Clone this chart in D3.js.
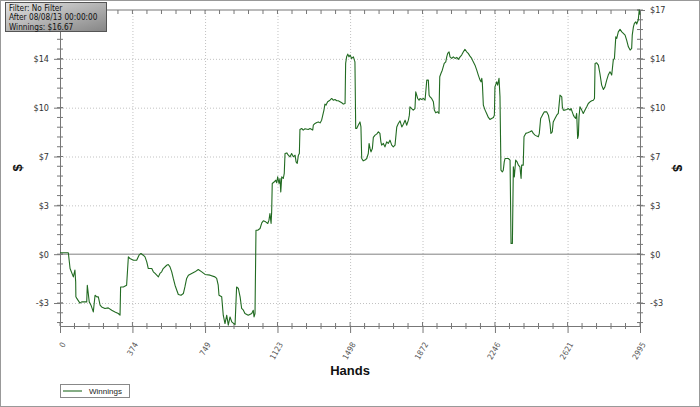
<html>
<head>
  <script src="https://d3js.org/d3.v7.min.js"></script>
  <style>
    body { margin: 0; background: white; }
    svg text { font-family: "DejaVu Sans Condensed", "Liberation Sans", sans-serif; }
    .gridlines line { stroke: #c2c2c2; stroke-dasharray: 1,2; }
    .gridlines .domain { stroke: none; }
    .axis path, .axis line, .ticks line { stroke: #777; }
  </style>
</head>
<body>
<svg id="chart" width="700" height="407"></svg>
<script>
  // running winnings (hand number, dollars)
  const hands = [
    0, 43, 52, 69, 77, 81, 82, 86, 103, 112,
    138, 141, 146, 151, 160, 172, 181, 190, 198, 207,
    215, 232, 249, 267, 284, 301, 310, 313, 327, 344,
    353, 361, 379, 396, 408, 418, 430, 439, 448, 456,
    474, 482, 491, 508, 516, 525, 533, 551, 559, 568,
    577, 585, 594, 603, 611, 625, 637, 645, 654, 663,
    680, 697, 714, 732, 749, 775, 800, 809, 817, 821,
    835, 843, 852, 861, 869, 878, 887, 904, 912, 921,
    930, 938, 947, 955, 972, 990, 998, 1002, 1007,
    1012, 1021, 1033, 1042, 1050, 1062, 1073, 1079, 1084, 1090,
    1093, 1096, 1107, 1114, 1119, 1124, 1131, 1136, 1140, 1145,
    1153, 1158, 1162, 1171, 1179, 1188, 1196, 1205, 1214, 1219,
    1225, 1231, 1236, 1239, 1248, 1256, 1265, 1282, 1291, 1300,
    1305, 1308, 1317, 1326, 1334, 1343, 1351, 1357, 1363, 1368,
    1374, 1382, 1394, 1403, 1411, 1420, 1429, 1437, 1446, 1455,
    1463, 1472, 1475, 1480, 1486, 1492, 1498, 1506, 1515, 1520,
    1523, 1527, 1532, 1540, 1549, 1554, 1558, 1566, 1575, 1584,
    1592, 1596, 1601, 1606, 1613, 1618, 1627, 1635, 1644,
    1652, 1657, 1661, 1670, 1678, 1687, 1695, 1704, 1713, 1721,
    1730, 1739, 1747, 1756, 1765, 1773, 1782, 1790, 1799, 1804,
    1807, 1816, 1824, 1833, 1837, 1842, 1847, 1854, 1859, 1868,
    1876, 1885, 1894, 1902, 1906, 1911, 1919, 1928, 1933, 1940,
    1950, 1957, 1961, 1967, 1974, 1984, 1992, 1997, 2002, 2009,
    2014, 2023, 2031, 2040, 2049, 2057, 2066, 2074, 2083, 2091,
    2100, 2108, 2117, 2126, 2134, 2143, 2152, 2160, 2169, 2174,
    2178, 2181, 2186, 2195, 2203, 2212, 2220, 2229, 2238, 2243,
    2246, 2255, 2260, 2267, 2272, 2277, 2284, 2289, 2294,
    2298, 2315, 2324, 2329, 2336, 2341, 2346, 2353, 2360, 2367,
    2375, 2381, 2384, 2392, 2396, 2405, 2415, 2427, 2436, 2444,
    2453, 2462, 2470, 2475, 2482, 2491, 2501, 2513, 2522, 2530,
    2535, 2542, 2547, 2556, 2565, 2573, 2582, 2591, 2594, 2599,
    2608, 2617, 2625, 2634, 2639, 2645, 2651, 2656, 2663, 2668,
    2673, 2677, 2680, 2685, 2694, 2702, 2711, 2720, 2728, 2737,
    2746, 2754, 2760, 2763, 2771, 2780, 2788, 2797, 2806, 2814,
    2823, 2831, 2840, 2849, 2857, 2863, 2870, 2875, 2883, 2892,
    2901, 2909, 2918, 2926, 2935, 2944, 2952, 2955, 2961, 2966,
    2973, 2978, 2986, 2991, 2995
  ];
  const winnings = [
    0.10, 0.10, -1.00, -1.58, -1.11, -1.93, -2.97, -3.06, -3.41, -3.32,
    -3.32, -2.16, -2.74, -3.32, -3.55, -4.02, -2.86, -2.97, -2.97, -3.55,
    -3.67, -3.78, -3.74, -3.90, -4.02, -4.13, -4.25, -2.28, -2.28, -2.16,
    -0.19, -0.30, -0.42, -0.42, -0.07, 0.05, -0.07, -0.19, -0.54, -1.00,
    -1.00, -1.23, -1.34, -1.58, -1.34, -1.23, -1.00, -0.77, -0.72, -0.88,
    -1.23, -1.69, -2.16, -2.51, -2.81, -2.86, -2.74, -2.28, -1.69, -1.46,
    -1.34, -1.23, -1.07, -1.23, -1.41, -1.46, -1.58, -1.69, -2.16, -2.86,
    -2.97, -4.25, -4.83, -4.25, -4.94, -4.37, -4.71, -4.90, -2.28, -2.39,
    -2.97, -3.78, -3.90, -4.13, -4.25, -4.13, -3.90, -4.37, -4.13,
    1.67, 1.67, 1.79, 2.18, 2.32, 2.25, 2.14, 2.37, 2.83, 2.14,
    2.95, 4.92, 5.04, 5.15, 4.97, 5.38, 4.92, 5.27, 4.34, 5.38,
    5.27, 5.62, 7.01, 7.05, 6.89, 6.78, 7.01, 6.78, 6.89, 6.43,
    6.32, 6.89, 7.01, 8.68, 8.75, 8.64, 8.73, 8.68, 8.75, 8.68,
    8.64, 8.98, 9.10, 9.17, 9.21, 9.14, 9.33, 9.68, 10.03, 10.45,
    10.38, 10.61, 10.72, 10.84, 10.72, 10.77, 10.68, 10.68, 10.61, 10.54,
    10.45, 10.49, 13.28, 13.74, 13.93, 13.74, 13.86, 13.63, 13.74, 13.51,
    13.39, 8.75, 8.75, 8.98, 9.21, 8.86, 6.66, 6.50, 6.55, 6.66,
    7.01, 7.71, 7.36, 7.12, 7.36, 8.13, 8.29, 8.36, 8.52,
    8.41, 7.82, 7.59, 7.71, 7.47, 7.82, 7.71, 7.94, 7.59, 7.47,
    7.59, 8.86, 9.10, 9.28, 8.86, 9.05, 9.33, 8.98, 9.33, 9.68,
    10.26, 10.14, 10.03, 10.14, 11.30, 11.07, 10.84, 10.72, 10.84, 10.77,
    10.84, 10.72, 12.12, 12.12, 11.07, 10.95, 10.84, 10.61, 10.03, 9.84,
    9.91, 9.80, 12.35, 12.58, 12.81, 13.28, 13.39, 13.74, 13.98, 14.09,
    13.74, 13.63, 13.74, 13.63, 13.70, 13.56, 13.74, 13.86, 14.09, 14.26,
    14.09, 13.98, 13.79, 13.63, 13.39, 13.16, 12.81, 12.47, 12.12, 12.00,
    12.24, 11.89, 10.38, 10.03, 9.80, 9.52, 9.38, 9.45, 9.52, 9.68,
    11.65, 12.00, 11.77, 12.24, 10.95, 5.85, 5.73, 5.85, 6.43,
    6.66, 6.66, 6.55, 0.75, 0.75, 6.08, 5.38, 6.55, 6.43, 6.20,
    6.08, 5.27, 6.20, 6.20, 8.17, 8.41, 8.45, 8.52, 8.59, 8.41,
    8.29, 8.22, 8.17, 8.41, 9.45, 9.68, 9.91, 9.91, 9.68, 9.10,
    8.41, 8.52, 9.21, 9.45, 9.68, 9.80, 11.07, 10.95, 10.26, 10.03,
    10.03, 10.08, 10.14, 10.03, 10.14, 9.91, 9.68, 9.56, 9.45, 9.80,
    8.06, 8.29, 9.56, 10.26, 10.03, 9.80, 10.03, 10.26, 10.49, 10.61,
    10.68, 10.72, 10.84, 13.28, 13.32, 13.16, 12.58, 11.77, 11.47, 11.65,
    12.12, 12.47, 12.70, 12.47, 13.51, 13.63, 15.13, 15.02, 15.48, 15.65,
    15.48, 15.37, 15.25, 14.90, 14.44, 14.21, 14.33, 15.25, 15.83, 16.07,
    16.18, 16.02, 16.30, 17.00, 16.67
  ];

  const xTicks = [0, 374, 749, 1123, 1498, 1872, 2246, 2621, 2995];
  const yTicks = [-3.4, 0, 3.4, 6.8, 10.2, 13.6, 17];
  const yTickLabels = ['-$3', '$0', '$3', '$7', '$10', '$14', '$17'];
  const infoLines = ['Filter: No Filter', 'After 08/08/13 00:00:00', 'Winnings: $16.67'];
  const seriesName = 'Winnings';
  const xTitle = 'Hands';
  const yTitle = '$';

  let svg = d3.select('svg#chart');
  const width = +svg.attr('width');
  const height = +svg.attr('height');
  const margin = { top: 10, right: 60, bottom: 81, left: 60 };
  const chartWidth = width - margin.left - margin.right;
  const chartHeight = height - margin.top - margin.bottom;
  const lineColor = '#226b22';

  const x = d3.scaleLinear().domain([0, 2995]).range([margin.left, margin.left + chartWidth]);
  const y = d3.scaleLinear().domain([-5, 17]).range([margin.top + chartHeight, margin.top]);

  // 5 divisions between labelled ticks
  const xMinor = [];
  for (let i = 0; i < xTicks.length - 1; i++) {
    for (let k = 1; k < 5; k++) xMinor.push(xTicks[i] + (xTicks[i + 1] - xTicks[i]) * k / 5);
  }
  const yMinor = d3.range(-4.76, 17.01, 0.68);

  // outer border
  svg.append('rect')
    .attr('x', 0.5).attr('y', 0.5)
    .attr('width', width - 1).attr('height', height - 1)
    .attr('fill', 'none').attr('stroke', '#999');

  // gridlines
  svg.append('g')
    .attr('class', 'x gridlines')
    .attr('transform', `translate(0,${y(-5)})`)
    .call(d3.axisBottom(x).tickValues(xTicks.slice(1, -1)).tickSize(-chartHeight).tickFormat(''));
  svg.append('g')
    .attr('class', 'y gridlines')
    .attr('transform', `translate(${x(0)},0)`)
    .call(d3.axisLeft(y).tickValues(yTicks.filter(v => v !== 0 && v !== 17)).tickSize(-chartWidth).tickFormat(''));

  // zero line and top frame
  svg.append('line')
    .attr('x1', x(0)).attr('x2', x(2995)).attr('y1', y(0)).attr('y2', y(0))
    .attr('stroke', '#808080');
  svg.append('line')
    .attr('x1', x(0)).attr('x2', x(2995)).attr('y1', y(17)).attr('y2', y(17))
    .attr('stroke', '#777');

  // axes
  let leftAxis = svg.append('g')
    .attr('class', 'axis')
    .attr('transform', `translate(${x(0)},0)`)
    .call(d3.axisLeft(y).tickValues(yTicks).tickFormat((d, i) => yTickLabels[i])
      .tickSizeInner(6).tickSizeOuter(0).tickPadding(5));
  // the top-left label sits under the info box in the original
  leftAxis.selectAll('.tick').filter(d => d === 17).select('text').remove();
  let rightAxis = svg.append('g')
    .attr('class', 'axis')
    .attr('transform', `translate(${x(2995)},0)`)
    .call(d3.axisRight(y).tickValues(yTicks).tickFormat((d, i) => yTickLabels[i])
      .tickSizeInner(5).tickSizeOuter(0).tickPadding(5));
  [leftAxis, rightAxis].forEach(g => {
    g.attr('font-size', 9);
    g.selectAll('text').attr('fill', '#333');
  });

  let bottomAxis = svg.append('g')
    .attr('class', 'axis')
    .attr('transform', `translate(0,${y(-5)})`)
    .call(d3.axisBottom(x).tickValues(xTicks).tickFormat(d3.format('d'))
      .tickSizeInner(7).tickSizeOuter(0));
  bottomAxis.attr('font-size', 8);
  bottomAxis.selectAll('text')
    .attr('fill', '#555')
    .attr('text-anchor', 'end')
    .attr('x', 0).attr('y', 0).attr('dy', '0.35em')
    .attr('transform', 'translate(3,17) rotate(-60)');

  // minor / crossing ticks
  let ticks = svg.append('g').attr('class', 'ticks');
  ticks.selectAll('line.ly').data(yMinor).join('line')
    .attr('class', 'ly')
    .attr('x1', x(0) - 3).attr('x2', x(0) + 3)
    .attr('y1', d => y(d)).attr('y2', d => y(d));
  ticks.selectAll('line.ry').data(yMinor).join('line')
    .attr('class', 'ry')
    .attr('x1', x(2995) - 3).attr('x2', x(2995) + 3)
    .attr('y1', d => y(d)).attr('y2', d => y(d));
  ticks.selectAll('line.lyM').data(yTicks).join('line')
    .attr('class', 'lyM')
    .attr('x1', x(0)).attr('x2', x(0) + 3)
    .attr('y1', d => y(d)).attr('y2', d => y(d));
  ticks.selectAll('line.ryM').data(yTicks).join('line')
    .attr('class', 'ryM')
    .attr('x1', x(2995) - 3).attr('x2', x(2995))
    .attr('y1', d => y(d)).attr('y2', d => y(d));
  ticks.selectAll('line.bx').data(xMinor).join('line')
    .attr('class', 'bx')
    .attr('x1', d => x(d)).attr('x2', d => x(d))
    .attr('y1', y(-5) - 3).attr('y2', y(-5) + 3);
  ticks.selectAll('line.bxM').data(xTicks).join('line')
    .attr('class', 'bxM')
    .attr('x1', d => x(d)).attr('x2', d => x(d))
    .attr('y1', y(-5) - 4).attr('y2', y(-5));
  ticks.selectAll('line.tx').data(xMinor.concat(xTicks)).join('line')
    .attr('class', 'tx')
    .attr('x1', d => x(d)).attr('x2', d => x(d))
    .attr('y1', y(17)).attr('y2', y(17) + 4);

  // the winnings line
  const points = hands.map((h, i) => ({ hand: h, win: winnings[i] }));
  svg.append('path')
    .datum(points)
    .attr('fill', 'none')
    .attr('stroke', lineColor)
    .attr('stroke-width', 1.1)
    .attr('stroke-linejoin', 'round')
    .attr('d', d3.line().x(d => x(d.hand)).y(d => y(d.win)));

  // titles
  svg.append('text')
    .attr('x', (x(0) + x(2995)) / 2).attr('y', 375)
    .attr('text-anchor', 'middle')
    .style('font-family', '"Liberation Sans", Arial, sans-serif')
    .attr('font-size', 13).attr('font-weight', 'bold').attr('fill', '#111')
    .text(xTitle);
  svg.append('text')
    .attr('transform', `translate(17,${(y(17) + y(-5)) / 2}) rotate(-90)`)
    .attr('text-anchor', 'middle').attr('dy', '0.35em')
    .style('font-family', '"Liberation Sans", Arial, sans-serif')
    .attr('font-size', 13).attr('font-weight', 'bold').attr('fill', '#111')
    .text(yTitle);
  svg.append('text')
    .attr('transform', `translate(678,${(y(17) + y(-5)) / 2}) rotate(90)`)
    .attr('text-anchor', 'middle').attr('dy', '0.35em')
    .style('font-family', '"Liberation Sans", Arial, sans-serif')
    .attr('font-size', 13).attr('font-weight', 'bold').attr('fill', '#111')
    .text(yTitle);

  // legend
  let legend = svg.append('g').attr('transform', 'translate(60,384)');
  legend.append('rect')
    .attr('x', 0.5).attr('y', 0.5).attr('width', 69).attr('height', 13)
    .attr('fill', 'white').attr('stroke', '#888');
  legend.append('line')
    .attr('x1', 3).attr('x2', 22).attr('y1', 7).attr('y2', 7)
    .attr('stroke', lineColor).attr('stroke-width', 1.1);
  legend.append('text')
    .attr('x', 29).attr('y', 10)
    .style('font-family', '"Liberation Sans", Arial, sans-serif')
    .attr('font-size', 8).attr('fill', '#222')
    .text(seriesName);

  // info box, top left
  let defs = svg.append('defs');
  let grad = defs.append('linearGradient').attr('id', 'infoGrad')
    .attr('x1', 0).attr('y1', 0).attr('x2', 1).attr('y2', 1);
  grad.append('stop').attr('offset', '0%').attr('stop-color', '#e4e4e4');
  grad.append('stop').attr('offset', '100%').attr('stop-color', '#858585');
  let info = svg.append('g').attr('transform', 'translate(5,2)');
  info.append('rect')
    .attr('x', 0.5).attr('y', 0.5).attr('width', 101).attr('height', 29)
    .attr('fill', 'url(#infoGrad)').attr('stroke', '#555');
  info.selectAll('text').data(infoLines).join('text')
    .attr('x', 4).attr('y', (d, i) => 9 + i * 9.3)
    .attr('font-size', 8.2).attr('fill', '#111')
    .text(d => d);
</script>
</body>
</html>
